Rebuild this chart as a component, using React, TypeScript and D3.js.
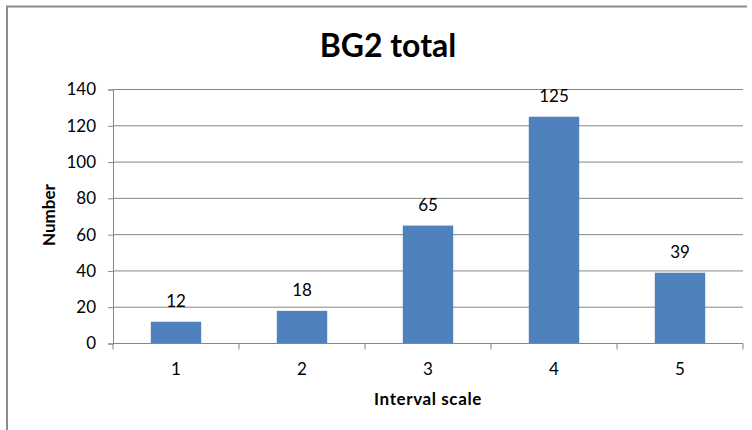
import * as d3 from "d3";
import React, { useEffect, useRef } from "react";

const categories = ["1", "2", "3", "4", "5"];
const values = [12, 18, 65, 125, 39];
const yTicks = [0, 20, 40, 60, 80, 100, 120, 140];

const W = 752;
const H = 430;
const FONT = "Lato, 'Open Sans', sans-serif";

export default function App() {
  const svgRef = useRef<SVGSVGElement | null>(null);

  useEffect(() => {
    const svg = d3.select(svgRef.current);
    svg.selectAll("*").remove();

    const margin = { top: 89.5, right: 9, bottom: 86.5, left: 113 };
    const width = W - margin.left - margin.right;
    const height = H - margin.top - margin.bottom;

    svg.append("rect").attr("width", W).attr("height", H).attr("fill", "#fff");

    // chart border (cropped at right/bottom)
    svg
      .append("path")
      .attr("d", `M7,${H} L7,6.5 L747,6.5`)
      .attr("fill", "none")
      .attr("stroke", "#8c8c8c")
      .attr("stroke-width", 2);

    svg
      .append("text")
      .attr("x", 388)
      .attr("y", 56.5)
      .attr("text-anchor", "middle")
      .attr("font-family", FONT)
      .attr("font-weight", "bold")
      .attr("font-size", 32)
      .attr("fill", "#000")
      .text("BG2 total");

    const g = svg
      .append("g")
      .attr("transform", `translate(${margin.left},${margin.top})`);

    const x = d3
      .scaleBand()
      .domain(categories)
      .range([0, width])
      .paddingInner(0.6)
      .paddingOuter(0.3);

    const xb = d3.scaleBand().domain(categories).range([0, width]);

    const y = d3.scaleLinear().domain([0, 140]).range([height, 0]);

    // gridlines
    g.selectAll(".grid")
      .data(yTicks.slice(1))
      .enter()
      .append("line")
      .attr("x1", 0)
      .attr("x2", width)
      .attr("y1", (d) => y(d))
      .attr("y2", (d) => y(d))
      .attr("stroke", "#868686")
      .attr("stroke-width", 1);

    // bars
    g.selectAll(".bar")
      .data(values)
      .enter()
      .append("rect")
      .attr("x", (d, i) => x(categories[i])!)
      .attr("y", (d) => y(d))
      .attr("width", x.bandwidth())
      .attr("height", (d) => height - y(d))
      .attr("fill", "#4f81bd");

    // value labels
    g.selectAll(".lbl")
      .data(values)
      .enter()
      .append("text")
      .attr("x", (d, i) => x(categories[i])! + x.bandwidth() / 2)
      .attr("y", (d) => y(d) - 15)
      .attr("text-anchor", "middle")
      .attr("font-family", FONT)
      .attr("font-size", 17)
      .attr("fill", "#000")
      .text((d) => d);

    // y axis
    const yAxis = g
      .append("g")
      .call(
        d3
          .axisLeft(y)
          .tickValues(yTicks)
          .tickSize(5)
          .tickPadding(12)
      );
    yAxis.select(".domain").attr("stroke", "#868686");
    yAxis.selectAll("line").attr("stroke", "#868686");
    yAxis
      .selectAll("text")
      .attr("font-family", FONT)
      .attr("font-size", 17)
      .attr("fill", "#000");

    // x axis
    const xAxisG = g.append("g").attr("transform", `translate(0,${height})`);
    xAxisG
      .append("line")
      .attr("x1", 0)
      .attr("x2", width)
      .attr("stroke", "#868686");
    const bounds = categories.map((c) => xb(c)!).concat([width]);
    xAxisG
      .selectAll(".tk")
      .data(bounds)
      .enter()
      .append("line")
      .attr("x1", (d) => d)
      .attr("x2", (d) => d)
      .attr("y1", 0)
      .attr("y2", 6)
      .attr("stroke", "#868686");
    xAxisG
      .selectAll(".xl")
      .data(categories)
      .enter()
      .append("text")
      .attr("x", (d) => xb(d)! + xb.bandwidth() / 2)
      .attr("y", 31.5)
      .attr("text-anchor", "middle")
      .attr("font-family", FONT)
      .attr("font-size", 17)
      .attr("fill", "#000")
      .text((d) => d);

    svg
      .append("text")
      .attr("x", margin.left + width / 2)
      .attr("y", 405)
      .attr("text-anchor", "middle")
      .attr("font-family", FONT)
      .attr("font-weight", "bold")
      .attr("font-size", 17)
      .attr("letter-spacing", 0.6)
      .attr("fill", "#000")
      .text("Interval scale");

    svg
      .append("text")
      .attr("transform", "translate(55,215) rotate(-90)")
      .attr("text-anchor", "middle")
      .attr("font-family", FONT)
      .attr("font-weight", "bold")
      .attr("font-size", 17)
      .attr("fill", "#000")
      .text("Number");
  }, []);

  return (
    <svg
      ref={svgRef}
      width={W}
      height={H}
      style={{ position: "absolute", left: 0, top: 0 }}
    />
  );
}
